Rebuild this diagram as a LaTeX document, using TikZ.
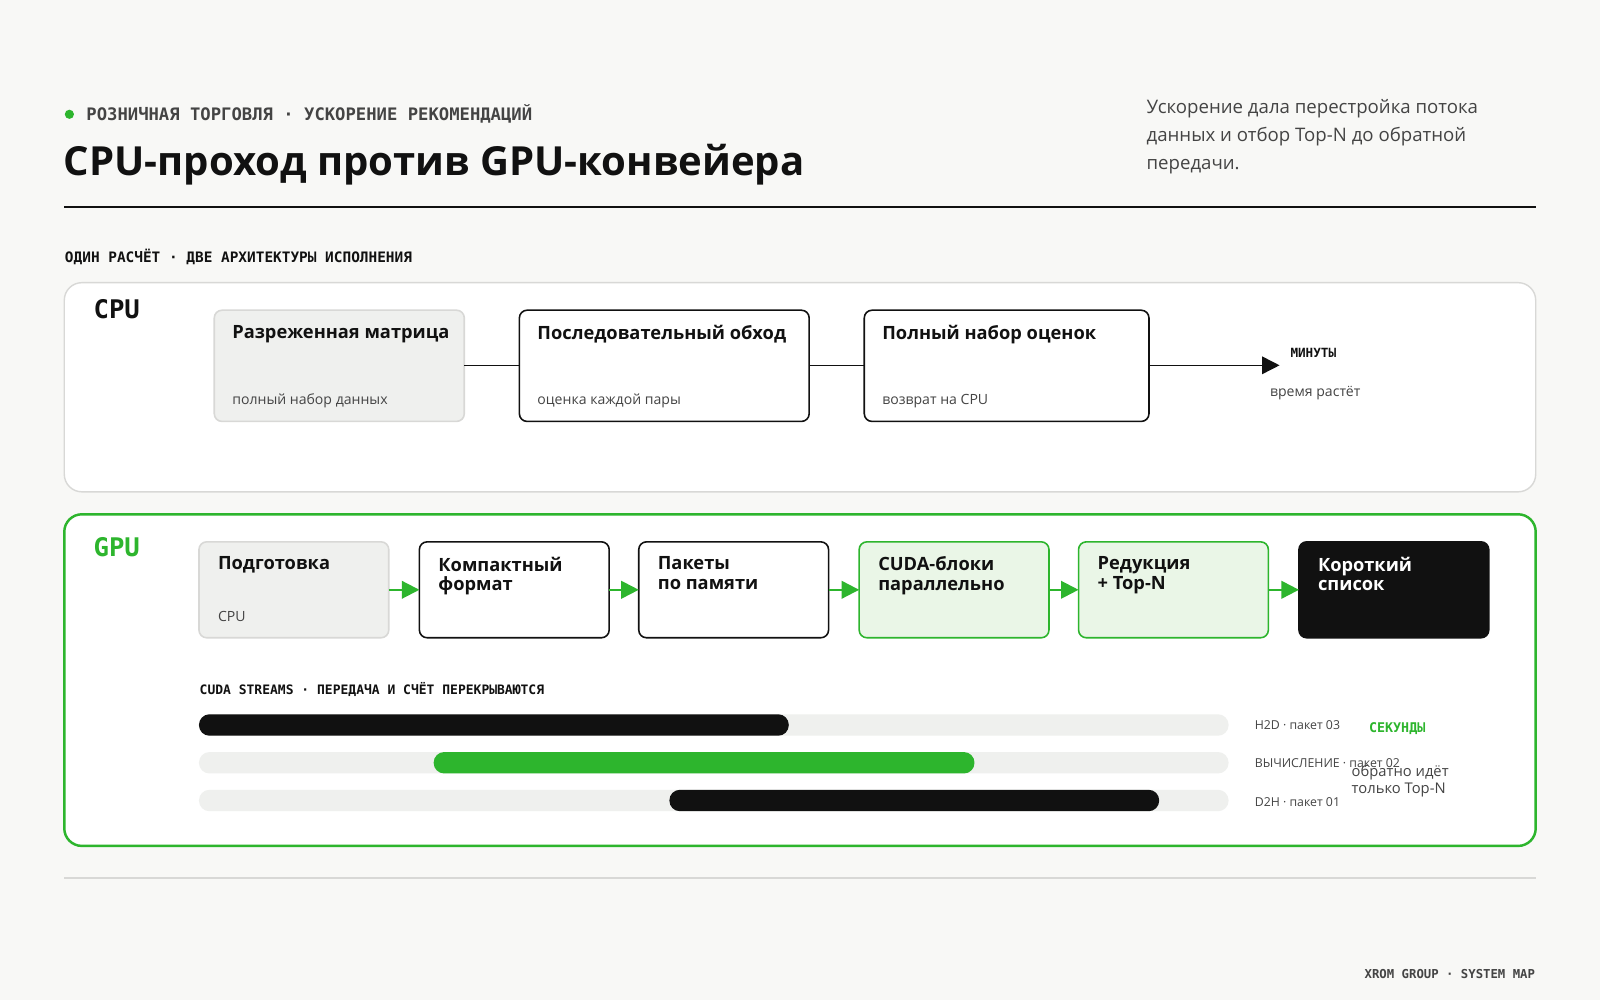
\documentclass[tikz,border=0pt]{standalone}
\usepackage{fontspec}
\setmainfont{Open Sans}
\newfontfamily\monof{DejaVu Sans Mono}
\usetikzlibrary{arrows.meta}
\definecolor{bg}{HTML}{F8F8F6}
\definecolor{grn}{HTML}{2DB52D}
\definecolor{lgrn}{HTML}{EAF6E7}
\definecolor{gbox}{HTML}{EFF0EE}
\definecolor{gline}{HTML}{D8D8D6}
\definecolor{txt}{HTML}{111111}
\definecolor{mut}{HTML}{444444}
\begin{document}
\begin{tikzpicture}[x=1cm/98,y=-1cm/98,
  mono/.style={font=\monof\bfseries\fontsize{#1}{#1}\selectfont,text=txt,anchor=west,inner sep=0},
  mono/.default=3.8,
  box/.style={draw=txt,line width=0.45pt,rounded corners=2.2pt,fill=white},
  head/.style={font=\bfseries\fontsize{5.2}{5.6}\selectfont,anchor=north west,inner sep=0,align=left,text=txt},
  sub/.style={font=\fontsize{4}{4}\selectfont,anchor=west,inner sep=0,text=mut},
  garr/.style={draw=grn,line width=0.6pt,-{Triangle[length=5pt,width=5pt]}},
  track/.style={fill=gbox,rounded corners=3pt},
  bar/.style={rounded corners=3pt}]
\fill[bg] (0,0) rectangle (1568,980);
\useasboundingbox (0,0) rectangle (1568,980);
% header
\fill[grn] (68,112) circle (4.5);
\node[mono=4.9,text=mut] (cat) at (84,112) {РОЗНИЧНАЯ ТОРГОВЛЯ · УСКОРЕНИЕ РЕКОМЕНДАЦИЙ};
\node[anchor=base west,inner sep=0,font=\bfseries\fontsize{11.4}{11.4}\selectfont,text=txt] (title) at (62,172) {CPU-проход против GPU-конвейера};
\node[anchor=north west,inner sep=0,align=left,font=\fontsize{5.3}{7.9}\selectfont,text=mut] (desc) at (1123,97) {Ускорение дала перестройка потока\\данных и отбор Top-N до обратной\\передачи.};
\draw[txt,line width=0.4pt] (63,203) -- (1505,203);
\node[mono=4.1] (sub) at (63,252) {ОДИН РАСЧЁТ · ДВЕ АРХИТЕКТУРЫ ИСПОЛНЕНИЯ};
% CPU panel
\draw[gline,fill=white,rounded corners=5pt,line width=0.4pt] (63,277) rectangle (1505,482);
\node[mono=7.3] (cpu) at (91,303) {CPU};
\draw[box,fill=gbox,draw=gline] (210,304) rectangle (455,413);
\node[head] at (227,318) {Разреженная матрица};
\node[sub] at (227,393) {полный набор данных};
\draw[box] (509,304) rectangle (793,413);
\node[head] at (526,318) {Последовательный обход};
\node[sub] at (526,393) {оценка каждой пары};
\draw[box] (847,304) rectangle (1126,413);
\node[head] at (864,318) {Полный набор оценок};
\node[sub] at (864,393) {возврат на CPU};
\coordinate (c1) at (455,358); \coordinate (c2) at (509,358);
\coordinate (c3) at (793,358); \coordinate (c4) at (847,358);
\coordinate (c5) at (1126,358); \coordinate (c6) at (1254,358);
\draw[txt,line width=0.45pt] (c1) -- (c2) (c3) -- (c4);
\draw[txt,line width=0.45pt,-{Triangle[length=5pt,width=5pt]}] (c5) -- (c6);
\node[mono=3.6] (min) at (1264,346) {МИНУТЫ};
\node[sub] (grow) at (1244,385) {время растёт};
% GPU panel
\draw[grn,fill=white,rounded corners=5pt,line width=0.7pt] (63,504) rectangle (1505,829);
\node[mono=7.3,text=grn] (gpu) at (91,536) {GPU};
\draw[box,fill=gbox,draw=gline] (195,531) rectangle (381,625);
\node[head] at (213,545) {Подготовка};
\node[sub] at (213,604) {CPU};
\draw[box] (411,531) rectangle (597,625);
\node[head] at (429,545) {Компактный\\формат};
\draw[box] (626,531) rectangle (812,625);
\node[head] at (644,545) {Пакеты\\по памяти};
\draw[box,fill=lgrn,draw=grn] (842,531) rectangle (1028,625);
\node[head] at (860,545) {CUDA-блоки\\параллельно};
\draw[box,fill=lgrn,draw=grn] (1057,531) rectangle (1243,625);
\node[head] at (1075,545) {Редукция\\+ Top-N};
\draw[box,fill=txt] (1273,531) rectangle (1459,625);
\node[head,text=white] at (1291,545) {Короткий\\список};
\foreach \a/\b in {381/411,597/626,812/842,1028/1057,1243/1273}{
  \coordinate (ga\a) at (\a,578); \coordinate (gb\a) at (\b,578);
  \draw[garr] (ga\a) -- (gb\a);}
\node[mono=3.7] (str) at (195,676) {CUDA STREAMS · ПЕРЕДАЧА И СЧЁТ ПЕРЕКРЫВАЮТСЯ};
\fill[track] (195,700) rectangle (1204,721);
\fill[track] (195,737) rectangle (1204,758);
\fill[track] (195,774) rectangle (1204,795);
\fill[bar,txt] (195,700) rectangle (773,721);
\fill[bar,grn] (425,737) rectangle (955,758);
\fill[bar,txt] (656,774) rectangle (1136,795);
\node[sub,font=\fontsize{3.5}{3.5}\selectfont] at (1229,711) {H2D · пакет 03};
\node[sub,font=\fontsize{3.5}{3.5}\selectfont] at (1229,748) {ВЫЧИСЛЕНИЕ · пакет 02};
\node[sub,font=\fontsize{3.5}{3.5}\selectfont] at (1229,786) {D2H · пакет 01};
\node[mono=3.8,text=grn] (sec) at (1341,714) {СЕКУНДЫ};
\node[anchor=north west,inner sep=0,align=left,font=\fontsize{4.2}{5}\selectfont,text=mut] (back) at (1324,749) {обратно идёт\\только Top-N};
\draw[gline,line width=0.6pt] (63,860) -- (1505,860);
\node[mono=3.5,anchor=east,text=mut] (foot) at (1505,955) {XROM GROUP · SYSTEM MAP};
\end{tikzpicture}
\end{document}
